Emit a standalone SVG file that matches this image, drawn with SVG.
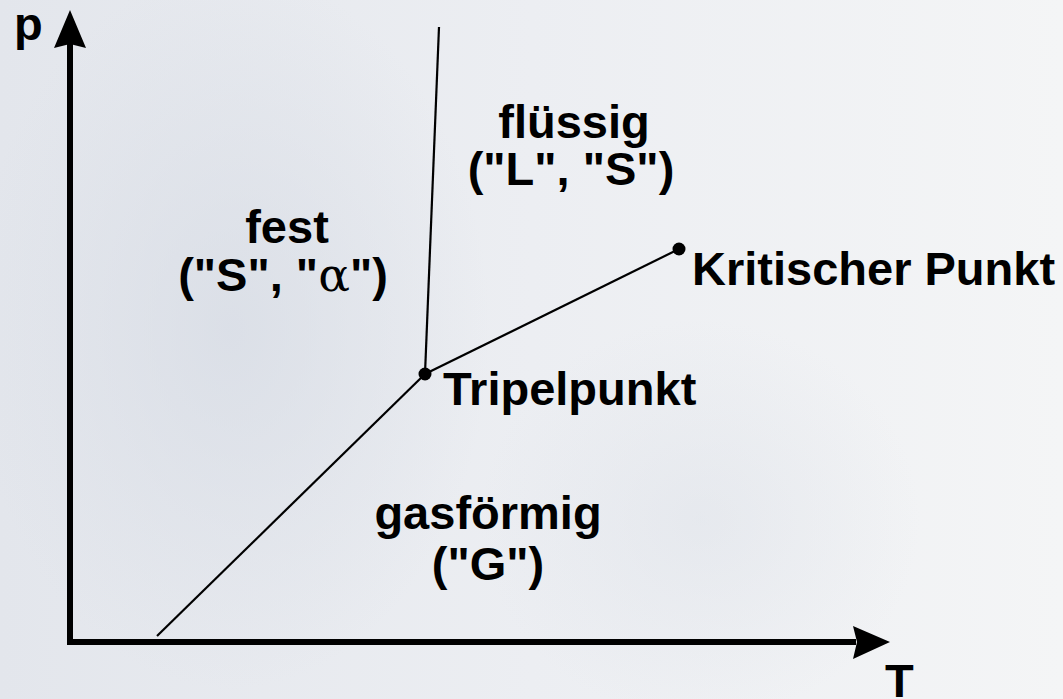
<svg xmlns="http://www.w3.org/2000/svg" width="1063" height="699" viewBox="0 0 1063 699">
<defs>
<linearGradient id="bg" x1="0" y1="0" x2="1" y2="0">
<stop offset="0" stop-color="#e3e6ec"/>
<stop offset="0.5" stop-color="#eceef2"/>
<stop offset="1" stop-color="#f4f5f6"/>
</linearGradient>
<radialGradient id="glow" cx="0.5" cy="0.5" r="0.5">
<stop offset="0" stop-color="#d6dbe4" stop-opacity="0.7"/>
<stop offset="1" stop-color="#d6dbe4" stop-opacity="0"/>
</radialGradient>
<style>
.lbl{font-family:"Liberation Sans",Arial,sans-serif;font-weight:bold;font-size:47px;fill:#000}
.mid{text-anchor:middle}
.ln{stroke:#000;stroke-width:2.2;fill:none}
.ax{stroke:#000;stroke-width:6;fill:none}
.greek{font-family:"DejaVu Serif","Liberation Serif",serif;font-weight:normal}
</style>
</defs>
<rect width="1063" height="699" fill="url(#bg)"/>
<ellipse cx="230" cy="330" rx="260" ry="360" fill="url(#glow)"/>
<ellipse cx="700" cy="520" rx="220" ry="200" fill="url(#glow)" opacity="0.5"/>
<g id="axes">
<line class="ax" x1="70" y1="645" x2="70" y2="44"/>
<polygon points="70,10 86,48 70,44 54,48" fill="#000"/>
<line class="ax" x1="67" y1="642" x2="856" y2="642"/>
<polygon points="890,642 853,626 857,642 853,659" fill="#000"/>
</g>
<g id="connectors">
<line class="ln" x1="157" y1="636" x2="425" y2="374"/>
<line class="ln" x1="425" y1="374" x2="439" y2="27"/>
<line class="ln" x1="425" y1="374" x2="679" y2="249"/>
</g>
<g id="tripelpunkt">
<circle cx="425" cy="374" r="6.5" fill="#000"/>
<text class="lbl" x="443" y="405">Tripelpunkt</text>
</g>
<g id="kritischer-punkt">
<circle cx="679" cy="249" r="6.5" fill="#000"/>
<text class="lbl" x="692" y="285">Kritischer Punkt</text>
</g>
<g id="axis-p"><text class="lbl" x="14" y="40">p</text></g>
<g id="axis-T"><text class="lbl" x="885" y="697">T</text></g>
<g id="fest">
<text class="lbl mid" x="287" y="243">fest</text>
<text class="lbl mid" x="283" y="291">("S", "<tspan class="greek">α</tspan>")</text>
</g>
<g id="fluessig">
<text class="lbl mid" x="574" y="138">flüssig</text>
<text class="lbl mid" x="571" y="185">("L", "S")</text>
</g>
<g id="gasfoermig">
<text class="lbl mid" x="488" y="529">gasförmig</text>
<text class="lbl mid" x="488" y="580">("G")</text>
</g>
</svg>
